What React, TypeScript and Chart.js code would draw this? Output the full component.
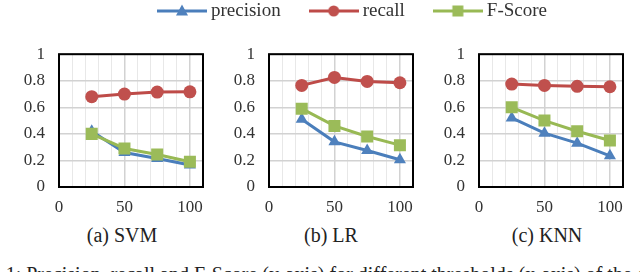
import React, { useEffect, useRef } from 'react';
import { Chart, registerables } from 'chart.js';
Chart.register(...registerables);

// ---- data ----
const xValues = [25, 50, 75, 100];
const seriesNames = ['precision', 'recall', 'F-Score'];
const svmPrecision = [0.42, 0.26, 0.215, 0.165];
const svmRecall = [0.68, 0.70, 0.715, 0.717];
const svmFScore = [0.40, 0.29, 0.245, 0.19];
const lrPrecision = [0.51, 0.34, 0.275, 0.205];
const lrRecall = [0.765, 0.825, 0.795, 0.785];
const lrFScore = [0.59, 0.46, 0.38, 0.315];
const knnPrecision = [0.52, 0.405, 0.33, 0.235];
const knnRecall = [0.775, 0.765, 0.758, 0.755];
const knnFScore = [0.60, 0.50, 0.42, 0.35];
const panelTitles = ['(a) SVM', '(b) LR', '(c) KNN'];
const yTicks = [0, 0.2, 0.4, 0.6, 0.8, 1];
const xTickLabels = [0, 50, 100];
const xMin = 0;
const xMax = 110;
const xGridStep = 10;
const captionText = 'Fig. 1: Precision, recall and F-Score (y-axis) for different thresholds (x-axis) of the classifiers';

// ---- styles ----
const FONT = "'Liberation Serif', 'Times New Roman', serif";
const TEXT_COLOR = '#333333';
const lineColors = ['#4A7EBB', '#BE4B48', '#98B954'];
const markerColors = ['#4F81BD', '#C0504D', '#9BBB59'];
const markerStyles = ['triangle', 'circle', 'rect'];
const markerRadii = [7, 6.5, 8.5];
const drawOrder = [2, 1, 0];

const boxPlugin = {
  id: 'plotBox',
  beforeDatasetsDraw(chart: any) {
    const { ctx, chartArea } = chart;
    const { left, top, right, bottom } = chartArea;
    ctx.save();
    ctx.strokeStyle = '#000000';
    ctx.lineWidth = 2;
    ctx.strokeRect(left, top, right - left, bottom - top);
    ctx.restore();
  },
};

function makeIcon(i: number): HTMLCanvasElement {
  const c = document.createElement('canvas');
  c.width = 50;
  c.height = 16;
  const ctx = c.getContext('2d')!;
  ctx.strokeStyle = lineColors[i];
  ctx.lineWidth = 3;
  ctx.beginPath();
  ctx.moveTo(0, 8);
  ctx.lineTo(50, 8);
  ctx.stroke();
  ctx.fillStyle = markerColors[i];
  const cx = 25, cy = 8;
  ctx.beginPath();
  if (markerStyles[i] === 'triangle') {
    ctx.moveTo(cx, cy - 6.5);
    ctx.lineTo(cx + 6, cy + 4.5);
    ctx.lineTo(cx - 6, cy + 4.5);
    ctx.closePath();
  } else if (markerStyles[i] === 'circle') {
    ctx.arc(cx, cy, 5.5, 0, Math.PI * 2);
  } else {
    ctx.rect(cx - 5.5, cy - 5.5, 11, 11);
  }
  ctx.fill();
  return c;
}

function Panel(props: { plotLeft: number; series: number[][] }) {
  const ref = useRef<HTMLCanvasElement>(null);
  useEffect(() => {
    const chart = new Chart(ref.current!, {
      type: 'line',
      data: {
        datasets: props.series.map((vals, i) => ({
          label: seriesNames[i],
          data: xValues.map((x, j) => ({ x, y: vals[j] })),
          borderColor: lineColors[i],
          backgroundColor: markerColors[i],
          borderWidth: 3,
          pointStyle: markerStyles[i] as any,
          pointRadius: markerRadii[i],
          pointBorderWidth: 0,
          pointBackgroundColor: markerColors[i],
          pointBorderColor: markerColors[i],
          tension: 0,
          order: drawOrder[i],
        })),
      },
      options: {
        animation: false,
        responsive: false,
        layout: { padding: { top: 13, right: 10, left: 0, bottom: 0 } },
        plugins: { legend: { display: false }, tooltip: { enabled: false } },
        scales: {
          x: {
            type: 'linear',
            min: xMin,
            max: xMax,
            ticks: {
              stepSize: xGridStep,
              autoSkip: false,
              maxRotation: 0,
              padding: 10,
              color: TEXT_COLOR,
              font: { family: FONT, size: 17 },
              callback: (v: any) => (xTickLabels.includes(Number(v)) ? String(v) : ''),
            },
            grid: {
              drawTicks: false,
              color: (c: any) => (c.tick && c.tick.value % 50 === 0 ? '#d2d2d2' : '#e8e8e8'),
              lineWidth: (c: any) => (c.tick && c.tick.value % 50 === 0 ? 1.5 : 1),
            },
            border: { display: false },
            afterFit: (s: any) => { s.height = 35; },
          },
          y: {
            type: 'linear',
            min: 0,
            max: 1,
            afterBuildTicks: (s: any) => { s.ticks = yTicks.map((v) => ({ value: v })); },
            ticks: {
              padding: 14,
              color: TEXT_COLOR,
              font: { family: FONT, size: 17 },
              callback: (v: any) => String(Math.round(Number(v) * 10) / 10),
            },
            grid: { drawTicks: false, color: '#d2d2d2', lineWidth: 1.5 },
            border: { display: false },
            afterFit: (s: any) => { s.width = 50; },
          },
        },
      },
      plugins: [boxPlugin],
    } as any);
    return () => chart.destroy();
  }, []);
  return (
    <div style={{ position: 'absolute', left: props.plotLeft - 50, top: 30, width: 204, height: 192 }}>
      <canvas ref={ref} width={204} height={192} style={{ display: 'block' }} />
    </div>
  );
}

const LEGEND_START = 157;
const LEGEND_Y = 11;

function LegendChart() {
  const ref = useRef<HTMLCanvasElement>(null);
  useEffect(() => {
    const icons = seriesNames.map((_, i) => makeIcon(i));
    const seriesLegend = {
      id: 'seriesLegend',
      afterDraw(chart: any) {
        const ctx = chart.ctx;
        ctx.save();
        ctx.font = `19px ${FONT}`;
        ctx.textBaseline = 'middle';
        ctx.textAlign = 'left';
        let x = LEGEND_START;
        chart.data.datasets.forEach((ds: any, i: number) => {
          ctx.drawImage(icons[i], x, LEGEND_Y - 8);
          x += 54;
          ctx.fillStyle = TEXT_COLOR;
          ctx.fillText(ds.label, x, LEGEND_Y);
          x += ctx.measureText(ds.label).width + 28;
        });
        ctx.restore();
      },
    };
    const chart = new Chart(ref.current!, {
      type: 'line',
      data: {
        datasets: seriesNames.map((name, i) => ({
          label: name,
          data: [],
          borderColor: lineColors[i],
          backgroundColor: markerColors[i],
        })),
      },
      options: {
        animation: false,
        responsive: false,
        scales: { x: { display: false }, y: { display: false } },
        plugins: { tooltip: { enabled: false }, legend: { display: false } },
      },
      plugins: [seriesLegend],
    } as any);
    return () => chart.destroy();
  }, []);
  return (
    <div style={{ position: 'absolute', left: 0, top: 0, width: 640, height: 26 }}>
      <canvas ref={ref} width={640} height={26} style={{ display: 'block' }} />
    </div>
  );
}

const panelLefts = [59, 269, 479];
const titleCenters = [122, 331, 547];

export default function App() {
  const allSeries = [
    [svmPrecision, svmRecall, svmFScore],
    [lrPrecision, lrRecall, lrFScore],
    [knnPrecision, knnRecall, knnFScore],
  ];
  return (
    <div
      style={{
        position: 'fixed',
        left: 0,
        top: 0,
        width: 640,
        height: 272,
        overflow: 'hidden',
        background: '#ffffff',
      }}
    >
      <LegendChart />
      {allSeries.map((s, i) => (
        <Panel key={i} plotLeft={panelLefts[i]} series={s} />
      ))}
      {panelTitles.map((t, i) => (
        <div
          key={t}
          style={{
            position: 'absolute',
            left: titleCenters[i] - 80,
            width: 160,
            top: 223,
            textAlign: 'center',
            fontFamily: FONT,
            fontSize: 20,
            lineHeight: '24px',
            color: '#222222',
            whiteSpace: 'nowrap',
          }}
        >
          {t}
        </div>
      ))}
      <div
        style={{
          position: 'absolute',
          left: -31,
          top: 262,
          fontFamily: FONT,
          fontSize: 20,
          lineHeight: '24px',
          color: '#222222',
          whiteSpace: 'nowrap',
        }}
      >
        {captionText}
      </div>
    </div>
  );
}
